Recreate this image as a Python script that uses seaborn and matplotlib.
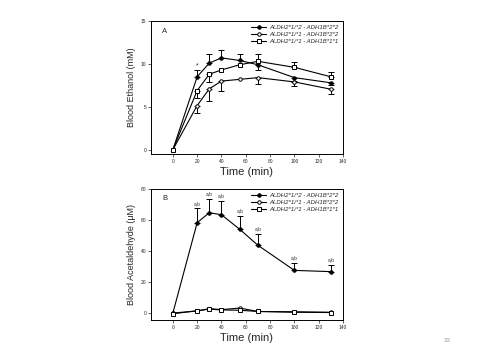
import matplotlib
matplotlib.use("Agg")
import matplotlib.pyplot as plt
import seaborn as sns
import pandas as pd
import numpy as np

sns.set_style("white")
plt.rcParams['font.family'] = ['Liberation Sans', 'DejaVu Sans']

time = [0, 20, 30, 40, 55, 70, 100, 130]
labels = ["ALDH2*1/*2 - ADH1B*2*2", "ALDH2*1/*1 - ADH1B*2*2", "ALDH2*1/*1 - ADH1B*1*1"]

# Panel A: blood ethanol (mM)
eth_s1 = [0.0, 8.5, 10.1, 10.7, 10.4, 9.9, 8.4, 7.8]
eth_s2 = [0.0, 5.15, 7.1, 8.0, 8.2, 8.4, 7.9, 7.05]
eth_s3 = [0.0, 6.9, 8.8, 9.3, 9.9, 10.3, 9.6, 8.5]
eth_s1_up = [0.0, 0.8, 1.0, 0.9, 0.7, 0.0, 0.0, 0.0]
eth_s1_dn = [0.0, 0.0, 0.0, 0.0, 0.0, 0.6, 0.4, 0.3]
eth_s2_up = [0.0, 0.0, 0.0, 0.0, 0.0, 0.0, 0.0, 0.0]
eth_s2_dn = [0.0, 0.85, 1.4, 1.2, 0.0, 0.8, 0.5, 0.55]
eth_s3_up = [0.0, 0.0, 0.0, 0.0, 0.0, 0.8, 0.6, 0.6]
eth_s3_dn = [0.0, 0.9, 0.9, 0.0, 0.0, 0.0, 0.0, 0.0]

# Panel B: blood acetaldehyde (uM)
ace_s1 = [0.0, 58.3, 64.7, 63.4, 54.0, 43.7, 27.5, 26.7]
ace_s2 = [0.0, 1.3, 2.8, 2.2, 3.2, 1.0, 0.8, 0.5]
ace_s3 = [-0.5, 1.5, 2.5, 2.0, 1.8, 1.0, 0.5, 0.3]
ace_s1_up = [0.0, 9.2, 8.8, 8.9, 8.6, 7.3, 4.8, 4.3]

fig = plt.figure(figsize=(4.8, 3.6), dpi=100)
axA = fig.add_axes([151/480, 1-154/360, 192/480, 133/360])
axB = fig.add_axes([151/480, 1-320/360, 192/480, 131/360])

styles = [
    dict(marker='o', markersize=2.5, markerfacecolor='black', markeredgecolor='black'),
    dict(marker='o', markersize=2.5, markerfacecolor='white', markeredgecolor='black'),
    dict(marker='s', markersize=3.2, markerfacecolor='white', markeredgecolor='black'),
]

def draw(ax, series, ups, dns):
    for i, (y, lab) in enumerate(zip(series, labels)):
        df = pd.DataFrame({"t": time, "v": y})
        sns.lineplot(data=df, x="t", y="v", ax=ax, color='black', linewidth=0.8,
                     label=lab, zorder=3, markeredgewidth=0.7, **styles[i])
        up, dn = ups[i], dns[i]
        up = up if up is not None else [0]*len(y)
        dn = dn if dn is not None else [0]*len(y)
        for t, v, u, d in zip(time, y, up, dn):
            if u > 0:
                ax.errorbar([t], [v], yerr=[[0], [u]], fmt='none', ecolor='black',
                            elinewidth=0.7, capsize=2, capthick=0.7, zorder=2)
            if d > 0:
                ax.errorbar([t], [v], yerr=[[d], [0]], fmt='none', ecolor='black',
                            elinewidth=0.7, capsize=2, capthick=0.7, zorder=2)

draw(axA, [eth_s1, eth_s2, eth_s3], [eth_s1_up, eth_s2_up, eth_s3_up],
     [eth_s1_dn, eth_s2_dn, eth_s3_dn])
draw(axB, [ace_s1, ace_s2, ace_s3], [ace_s1_up, None, None], [None, None, None])

for ax in (axA, axB):
    ax.set_xlim(-18, 140)
    ax.set_xticks(range(0, 141, 20))
    ax.tick_params(axis='both', labelsize=3.5, length=2, width=0.5, direction='out',
                   bottom=True, left=True, pad=1.5)
    for sp in ax.spines.values():
        sp.set_linewidth(0.7)
        sp.set_color('black')
    ax.set_xlabel("Time (min)", fontsize=8, labelpad=2)
    leg = ax.legend(loc='upper right', frameon=False, fontsize=4.3, handlelength=2.5,
                    borderaxespad=0.3, labelspacing=0.25, handletextpad=0.6)
    for txt in leg.get_texts():
        txt.set_fontstyle('italic')

axA.set_ylim(-0.5, 15)
axA.set_yticks([0, 5, 10, 15])
axA.set_ylabel("Blood Ethanol (mM)", fontsize=6.5, labelpad=3)
axA.text(-9, 14.2, "A", fontsize=5.5, va='top')
axA.text(20, 9.4, "*", fontsize=5, ha='center', va='bottom')

axB.set_ylim(-4.5, 80)
axB.set_yticks([0, 20, 40, 60, 80])
axB.set_ylabel("Blood Acetaldehyde (\u03bcM)", fontsize=6.5, labelpad=3)
axB.text(-9, 76, "B", fontsize=5.5, va='top')
for t, v, u in zip(time, ace_s1, ace_s1_up):
    if u > 0:
        axB.text(t, v + u + 1.5, "a,b", fontsize=3.5, ha='center', va='bottom')

fig.text(447/480, 1-340/360, "33", fontsize=4.5, color='#7f9fbf', ha='center', va='center')

fig.savefig("out.png", dpi=100)
